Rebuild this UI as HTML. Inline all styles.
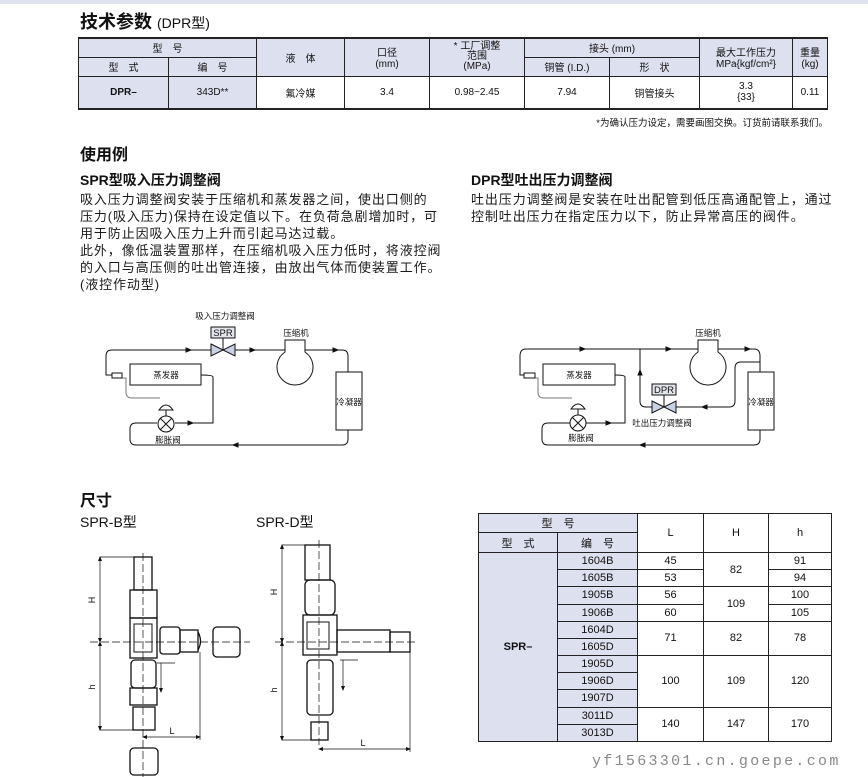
<!DOCTYPE html>
<html><head><meta charset="utf-8"><style>
*{margin:0;padding:0;box-sizing:border-box}
body{width:868px;height:777px;background:#fff;position:relative;overflow:hidden;font-family:"Liberation Sans","Noto Sans CJK SC",sans-serif;color:#111}
.a{position:absolute;white-space:nowrap}
table{position:absolute;border-collapse:collapse;font-size:10px}
td{border:1px solid #222;text-align:center;vertical-align:middle;padding:0}
.h{background:#dde0ee}
.body{font-size:13px;letter-spacing:0.9px;line-height:17px;color:#1a1a1a}
svg{position:absolute;left:0;top:0}
</style></head><body>
<div class="a" style="left:0;top:0;width:868px;height:4px;background:#dfe3ee"></div>
<div class="a" style="left:80px;top:8px;font-size:18px;font-weight:bold">技术参数 <span style="font-size:14px;font-weight:normal">(DPR型)</span></div>
<table style="left:78px;top:37px;width:750px;height:73px;border-top:2px solid #222;border-bottom:2px solid #222">
<tr style="height:19px"><td class="h" colspan="2" style="width:179px">型　号</td><td class="h" rowspan="2" style="width:88px">液　体</td><td class="h" rowspan="2" style="width:85px">口径<br>(mm)</td><td class="h" rowspan="2" style="width:95px;line-height:10px">* 工厂调整<br>范围<br>(MPa)</td><td class="h" colspan="2">接头 (mm)</td><td class="h" rowspan="2" style="width:93px">最大工作压力<br>MPa{kgf/cm²}</td><td class="h" rowspan="2" style="width:35px">重量<br>(kg)</td></tr>
<tr style="height:19px"><td class="h" style="width:90px">型　式</td><td class="h">编　号</td><td class="h" style="width:85px">铜管 (I.D.)</td><td class="h" style="width:90px">形　状</td></tr>
<tr><td class="h"><b>DPR–</b></td><td class="h">343D**</td><td>氟冷媒</td><td>3.4</td><td>0.98~2.45</td><td>7.94</td><td>铜管接头</td><td>3.3<br>{33}</td><td>0.11</td></tr>
</table>
<div class="a" style="right:40px;top:115px;font-size:9.5px">*为确认压力设定，需要画图交换。订货前请联系我们。</div>
<div class="a" style="left:80px;top:141px;font-size:16px;font-weight:bold">使用例</div>
<div class="a" style="left:80px;top:170px;font-size:14px;font-weight:bold">SPR型吸入压力调整阀</div>
<div class="a body" style="left:80px;top:191px">吸入压力调整阀安装于压缩机和蒸发器之间，使出口侧的<br>压力(吸入压力)保持在设定值以下。在负荷急剧增加时，可<br>用于防止因吸入压力上升而引起马达过载。<br>此外，像低温装置那样，在压缩机吸入压力低时，将液控阀<br>的入口与高压侧的吐出管连接，由放出气体而使装置工作。<br>(液控作动型)</div>
<div class="a" style="left:471px;top:170px;font-size:14px;font-weight:bold">DPR型吐出压力调整阀</div>
<div class="a body" style="left:471px;top:191px">吐出压力调整阀是安装在吐出配管到低压高通配管上，通过<br>控制吐出压力在指定压力以下，防止异常高压的阀件。</div>
<div class="a" style="left:80px;top:487px;font-size:16px;font-weight:bold">尺寸</div>
<div class="a" style="left:80px;top:512px;font-size:14px">SPR-B型</div>
<div class="a" style="left:256px;top:512px;font-size:14px">SPR-D型</div>

<svg width="868" height="777" font-family="Liberation Sans,Noto Sans CJK SC,sans-serif" font-size="8.5" fill="none" stroke="#111" stroke-width="1">
<path d="M122,375 H106 V356 Q106,350 112,350 H342 Q348,350 348,356 V372"/>
<path d="M348,430 V439 Q348,445 342,445 H136 Q130,445 130,439 V429 Q130,423 136,423 H157"/>
<path d="M175,423 H213 V377 Q213,375 201,375"/>
<path d="M122,378 H126 V392 Q126,398 132,398 H160" stroke="#777"/>
<rect x="112" y="373" width="10" height="5" fill="#fff"/>
<rect x="130" y="364" width="71" height="21" fill="#fff"/>
<circle cx="166" cy="424" r="8" fill="#fff"/><path d="M160,418 L172,430 M172,418 L160,430"/>
<path d="M159,410 Q166,400 173,410 Z M166,410 V416" fill="#fff"/>
<rect x="211" y="327" width="24" height="11" fill="#e4e6ee"/><path d="M223,338 V350"/>
<path d="M211,344 L235,356 V344 L211,356 Z" fill="#c9d1e6"/>
<path d="M285,340 H305 V352 A18,18 0 1 1 285,352 Z" fill="#fff"/>
<rect x="336" y="372" width="26" height="58" fill="#fff"/>
<path d="M186,348 l5,2 -5,2Z M250,348 l5,2 -5,2Z M333,348 l5,2 -5,2Z M188,421 l5,2 -5,2Z M238,443 l-5,2 5,2Z" fill="#111"/>
<g fill="#111" stroke="none">
<text x="225" y="319" text-anchor="middle">吸入压力调整阀</text>
<text x="223" y="336" text-anchor="middle" font-size="9.5">SPR</text>
<text x="296" y="336" text-anchor="middle">压缩机</text>
<text x="166" y="378" text-anchor="middle">蒸发器</text>
<text x="349" y="405" text-anchor="middle">冷凝器</text>
<text x="168" y="443" text-anchor="middle">膨胀阀</text>
</g>
<path d="M535,375 H520 V356 Q520,349 526,349 H754 Q760,349 760,356 V372"/>
<path d="M760,430 V439 Q760,445 754,445 H548 Q542,445 542,439 V429 Q542,423 548,423 H570"/>
<path d="M586,423 H625 V377 Q625,375 615,375"/>
<path d="M535,378 H538 V392 Q538,398 544,398 H572" stroke="#777"/>
<path d="M640,349 V401 Q640,407 646,407 H652 M676,407 H729 Q735,407 735,401 V368 Q735,362 741,362 H760"/>
<rect x="524" y="373" width="11" height="5" fill="#fff"/>
<rect x="543" y="364" width="72" height="21" fill="#fff"/>
<circle cx="578" cy="423" r="8" fill="#fff"/><path d="M572,417 L584,429 M584,417 L572,429"/>
<path d="M571,409 Q578,399 585,409 Z M578,409 V415" fill="#fff"/>
<rect x="652" y="384" width="24" height="11" fill="#e4e6ee"/><path d="M664,395 V407"/>
<path d="M652,401 L676,413 V401 L652,413 Z" fill="#c9d1e6"/>
<path d="M698,340 H718 V352 A18,18 0 1 1 698,352 Z" fill="#fff"/>
<rect x="748" y="372" width="26" height="58" fill="#fff"/>
<path d="M580,347 l5,2 -5,2Z M666,347 l5,2 -5,2Z M745,347 l5,2 -5,2Z M707,405 l-5,2 5,2Z M606,421 l5,2 -5,2Z M645,443 l-5,2 5,2Z M638,375 l2,-5 2,5Z" fill="#111"/>
<g fill="#111" stroke="none">
<text x="664" y="393" text-anchor="middle" font-size="9.5">DPR</text>
<text x="708" y="336" text-anchor="middle">压缩机</text>
<text x="579" y="378" text-anchor="middle">蒸发器</text>
<text x="761" y="405" text-anchor="middle">冷凝器</text>
<text x="662" y="426" text-anchor="middle">吐出压力调整阀</text>
<text x="581" y="441" text-anchor="middle">膨胀阀</text>
</g>
<g stroke-width="1.3">
<rect x="134" y="557" width="18" height="33"/>
<rect x="130" y="590" width="27" height="28"/>
<rect x="130" y="618" width="27" height="40"/>
<rect x="134" y="624" width="18" height="28" stroke-width="1"/>
<rect x="160" y="627" width="20" height="27" rx="3"/>
<rect x="180" y="630" width="18" height="22"/>
<path d="M198,632 Q203,641 198,650"/>
<rect x="213" y="627" width="27" height="30" rx="4"/>
<rect x="131" y="660" width="25" height="28" rx="4"/>
<rect x="130" y="688" width="27" height="17"/>
<rect x="133" y="707" width="22" height="23"/>
<rect x="130" y="748" width="28" height="27" rx="4"/>
<rect x="305" y="545" width="25" height="35"/>
<rect x="305" y="580" width="30" height="35" rx="5"/>
<rect x="303" y="615" width="34" height="40"/>
<rect x="307" y="622" width="22" height="27" stroke-width="1"/>
<rect x="337" y="630" width="53" height="22"/>
<rect x="390" y="632" width="20" height="20"/>
<rect x="307" y="660" width="26" height="55" rx="4"/>
<rect x="311" y="722" width="17" height="18"/>
</g>
<g stroke-width="0.7" stroke-dasharray="8,3">
<path d="M143,553 V777 M90,642 H250 M319,540 V745 M275,642 H415"/>
</g>
<g stroke-width="0.7">
<path d="M100,557 H134 M100,730 H134 M100,557 V730 M282,545 H305 M282,740 H311 M282,545 V740 M200,652 V740 M143,737 H200 M410,652 V752 M319,749 H410"/>
<path d="M157,663 H175 M161,663 V690 M340,660 H358 M343,660 V688"/>
</g>
<path d="M98,561 l2,-5 2,5Z M98,726 l2,5 2,-5Z M98,638 l2,5 2,-5Z M98,646 l2,-5 2,5Z M280,549 l2,-5 2,5Z M280,736 l2,5 2,-5Z M280,638 l2,5 2,-5Z M280,646 l2,-5 2,5Z M147,735 l-5,2 5,2Z M196,735 l5,2 -5,2Z M323,747 l-5,2 5,2Z M406,747 l5,2 -5,2Z M159,688 l2,5 2,-5Z M341,686 l2,5 2,-5Z" fill="#111" stroke="none"/>
<g fill="#111" stroke="none" font-size="9">
<text x="95" y="600" transform="rotate(-90 95 600)" text-anchor="middle">H</text>
<text x="95" y="687" transform="rotate(-90 95 687)" text-anchor="middle">h</text>
<text x="277" y="592" transform="rotate(-90 277 592)" text-anchor="middle">H</text>
<text x="277" y="690" transform="rotate(-90 277 690)" text-anchor="middle">h</text>
<text x="172" y="734" text-anchor="middle">L</text>
<text x="363" y="746" text-anchor="middle">L</text>
</g>
</svg>

<table style="left:478px;top:513px;width:354px;height:229px;border:1.5px solid #222;font-size:11px">
<tr style="height:19px"><td class="h" colspan="2">型　号</td><td rowspan="2" style="width:66px">L</td><td rowspan="2" style="width:65px">H</td><td rowspan="2">h</td></tr>
<tr style="height:20px"><td class="h" style="width:79px">型　式</td><td class="h" style="width:80px">编　号</td></tr>
<tr><td class="h" rowspan="11"><b>SPR–</b></td><td class="h">1604B</td><td>45</td><td rowspan="2">82</td><td>91</td></tr>
<tr><td class="h">1605B</td><td>53</td><td>94</td></tr>
<tr><td class="h">1905B</td><td>56</td><td rowspan="2">109</td><td>100</td></tr>
<tr><td class="h">1906B</td><td>60</td><td>105</td></tr>
<tr><td class="h">1604D</td><td rowspan="2">71</td><td rowspan="2">82</td><td rowspan="2">78</td></tr>
<tr><td class="h">1605D</td></tr>
<tr><td class="h">1905D</td><td rowspan="3">100</td><td rowspan="3">109</td><td rowspan="3">120</td></tr>
<tr><td class="h">1906D</td></tr>
<tr><td class="h">1907D</td></tr>
<tr><td class="h">3011D</td><td rowspan="2">140</td><td rowspan="2">147</td><td rowspan="2">170</td></tr>
<tr><td class="h">3013D</td></tr>
</table>
<div class="a" style="left:592px;top:753px;font-family:'Liberation Mono',monospace;font-size:15px;color:#888;letter-spacing:2.3px">yf1563301.cn.goepe.com</div>
</body></html>
